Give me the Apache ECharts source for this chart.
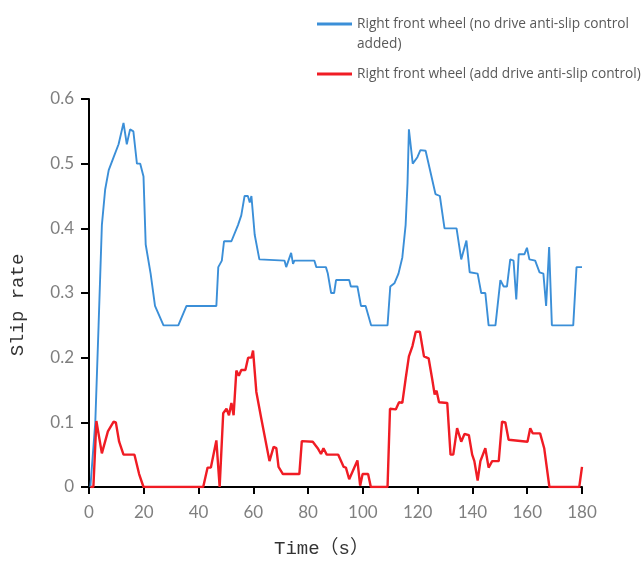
<!DOCTYPE html>
<html>
<head>
<meta charset="utf-8">
<title>Slip rate</title>
<script src="https://cdn.jsdelivr.net/npm/echarts@6/dist/echarts.min.js"></script>
<style>
  html, body { margin: 0; padding: 0; background: #ffffff; }
  #chart { width: 643px; height: 563px; }
</style>
</head>
<body>
<div id="chart"></div>
<script>
// Time axis ticks (s) and slip-rate axis ticks
const timeTicks = [0, 20, 40, 60, 80, 100, 120, 140, 160, 180];
const slipTicks = [0, 0.1, 0.2, 0.3, 0.4, 0.5, 0.6];

const seriesNames = [
  'Right front wheel (no drive anti-slip control\nadded)',
  'Right front wheel (add drive anti-slip control)'
];

// Right front wheel, no drive anti-slip control
const noCtrlTime = [
  0.5, 2.3, 3.5, 4.7, 5.9, 7.2, 9, 10.8, 12.6, 13.8, 15, 16.2, 17.5, 18.7, 19.9,
  20.7, 22.5, 24.1, 27.2, 32.6, 35.6, 46.5, 47.2, 48.5, 49.3, 52, 54.4, 55.6,
  56.8, 58, 58.7, 59.3, 60.5, 62.2, 71.4, 72, 73.8, 74.5, 75, 82.3, 83, 86.5,
  87.2, 88.4, 89.5, 90.2, 95, 95.6, 98, 99.3, 101, 103, 109, 110, 111.5, 113,
  114.4, 115.6, 116.3, 116.8, 118.2, 119.9, 121, 122.9, 126.5, 128.1, 129.8,
  134.2, 135.9, 137.8, 139, 141.9, 143.2, 144.7, 145.9, 148.4, 150.2, 151.4,
  152.6, 153.8, 155, 156, 156.9, 159, 159.9, 160.8, 162.9, 164.5, 165.9, 166.9,
  168, 169, 176.8, 178, 180
];
const noCtrlSlip = [
  0, 0.1, 0.25, 0.405, 0.46, 0.49, 0.51, 0.53, 0.563, 0.53, 0.553, 0.55, 0.5, 0.5, 0.48,
  0.375, 0.33, 0.28, 0.25, 0.25, 0.28, 0.28, 0.34, 0.35, 0.38, 0.38, 0.405, 0.42,
  0.45, 0.45, 0.44, 0.45, 0.39, 0.352, 0.35, 0.34, 0.362, 0.345, 0.35, 0.35, 0.34, 0.34,
  0.33, 0.30, 0.30, 0.32, 0.32, 0.31, 0.31, 0.28, 0.28, 0.25, 0.25, 0.31, 0.315, 0.33,
  0.355, 0.405, 0.47, 0.553, 0.50, 0.51, 0.521, 0.52, 0.453, 0.45, 0.40,
  0.40, 0.352, 0.381, 0.332, 0.33, 0.30, 0.30, 0.25, 0.25, 0.32, 0.31,
  0.31, 0.352, 0.35, 0.29, 0.36, 0.36, 0.37, 0.352, 0.35, 0.332, 0.33, 0.28,
  0.371, 0.25, 0.25, 0.34, 0.34
];

// Right front wheel, drive anti-slip control added
const ctrlTime = [
  0.5, 1.6, 2.7, 4.7, 6.9, 9, 9.8, 11, 12.6, 16.6, 18.3, 19.9, 41.7, 43.3, 44.5,
  46.5, 47.7, 49, 50.2, 51.1, 52, 52.8, 53.8, 54.7, 55.6, 57.1, 58.1, 59.3, 59.9,
  61.1, 62.9, 65.9, 67.4, 68.4, 69.2, 70.8, 76.8, 77.7, 81.7, 83.5, 84.7, 85.6,
  86.8, 91, 93, 93.8, 95, 98, 99, 99.9, 101.9, 102.9, 109, 109.9, 112, 113.2,
  114.4, 115.6, 116.8, 118.1, 119.3, 120.8, 122.3, 124, 125.3, 126.2, 126.9,
  127.8, 130.8, 132, 133, 134.4, 135.9, 137.1, 138.7, 139.9, 140.7, 141.9, 142.9,
  143.5, 144.7, 145.9, 147.2, 149.6, 150.8, 152, 153.2, 160.1, 161.1, 162, 164.7,
  166.2, 168.1, 179, 180
];
const ctrlSlip = [
  0, 0, 0.102, 0.052, 0.086, 0.101, 0.10, 0.07, 0.05, 0.05, 0.02, 0, 0, 0.03, 0.03,
  0.072, 0, 0.114, 0.121, 0.111, 0.13, 0.111, 0.18, 0.172, 0.181, 0.181, 0.2, 0.2, 0.211,
  0.147, 0.106, 0.04, 0.062, 0.06, 0.031, 0.02, 0.02, 0.071, 0.07, 0.06, 0.051, 0.06,
  0.05, 0.05, 0.031, 0.03, 0.012, 0.041, 0.002, 0.02, 0.02, 0, 0, 0.121, 0.12, 0.131,
  0.13, 0.167, 0.202, 0.218, 0.24, 0.24, 0.202, 0.199, 0.167, 0.143, 0.149,
  0.131, 0.13, 0.05, 0.05, 0.091, 0.07, 0.082, 0.08, 0.05, 0.04, 0.01, 0.04,
  0.04, 0.06, 0.03, 0.04, 0.04, 0.101, 0.10, 0.073, 0.07, 0.091, 0.083, 0.083,
  0.06, 0, 0, 0.031
];

const pair = (xs, ys) => xs.map((x, i) => [x, ys[i]]);

const blue = '#3b8fd8';
const red = '#f01c24';
const labelFont = 'Lato, "Open Sans", sans-serif';
const nameFont = '"Liberation Mono", "Noto Sans CJK SC", monospace';

const chart = echarts.init(document.getElementById('chart'), null, { renderer: 'canvas' });

const legendText = {
  color: '#595959',
  fontSize: 13.7,
  fontFamily: '"Open Sans", Lato, sans-serif',
  lineHeight: 20
};

// The wrapped first entry gets a blank leading line so that its first text
// line sits level with the legend stroke.
chart.setOption({
  animation: false,
  backgroundColor: '#ffffff',
  grid: { left: 87, right: 61, top: 99, bottom: 70, containLabel: false },
  legend: [
    {
      data: [seriesNames[0]],
      formatter: (name) => '\u00a0\n' + name,
      left: 317,
      top: -6,
      padding: 0,
      icon: 'rect',
      itemWidth: 35,
      itemHeight: 3,
      itemGap: 6,
      textStyle: legendText
    },
    {
      data: [seriesNames[1]],
      left: 317,
      top: 64,
      padding: 0,
      icon: 'rect',
      itemWidth: 35,
      itemHeight: 3,
      itemGap: 6,
      textStyle: legendText
    }
  ],
  xAxis: {
    type: 'value',
    min: timeTicks[0],
    max: timeTicks[timeTicks.length - 1],
    interval: timeTicks[1] - timeTicks[0],
    name: 'Time（s）',
    nameLocation: 'middle',
    nameGap: 52,
    nameTextStyle: { color: '#333333', fontSize: 19, fontFamily: nameFont, padding: [0, 28, 0, 0] },
    splitLine: { show: false },
    axisLine: { lineStyle: { color: '#000000', width: 2 } },
    axisTick: { length: 7, lineStyle: { color: '#000000', width: 2 } },
    axisLabel: { color: '#7f7f7f', fontSize: 17, fontFamily: labelFont, margin: 17 }
  },
  yAxis: {
    type: 'value',
    min: slipTicks[0],
    max: slipTicks[slipTicks.length - 1],
    interval: slipTicks[1] - slipTicks[0],
    name: 'Slip rate',
    nameLocation: 'middle',
    nameGap: 62,
    nameTextStyle: { color: '#333333', fontSize: 19, fontFamily: nameFont, padding: [0, 24, 0, 0] },
    splitLine: { show: false },
    axisLine: { show: true, lineStyle: { color: '#000000', width: 2 } },
    axisTick: { show: true, length: 8, lineStyle: { color: '#000000', width: 2 } },
    axisLabel: { color: '#7f7f7f', fontSize: 17, fontFamily: labelFont, margin: 15 }
  },
  series: [
    {
      name: seriesNames[0],
      type: 'line',
      data: pair(noCtrlTime, noCtrlSlip),
      showSymbol: false,
      symbol: 'none',
      color: blue,
      lineStyle: { color: blue, width: 1.9 },
      z: 2
    },
    {
      name: seriesNames[1],
      type: 'line',
      data: pair(ctrlTime, ctrlSlip),
      showSymbol: false,
      symbol: 'none',
      color: red,
      lineStyle: { color: red, width: 2.4 },
      z: 3
    }
  ]
});
</script>
</body>
</html>
